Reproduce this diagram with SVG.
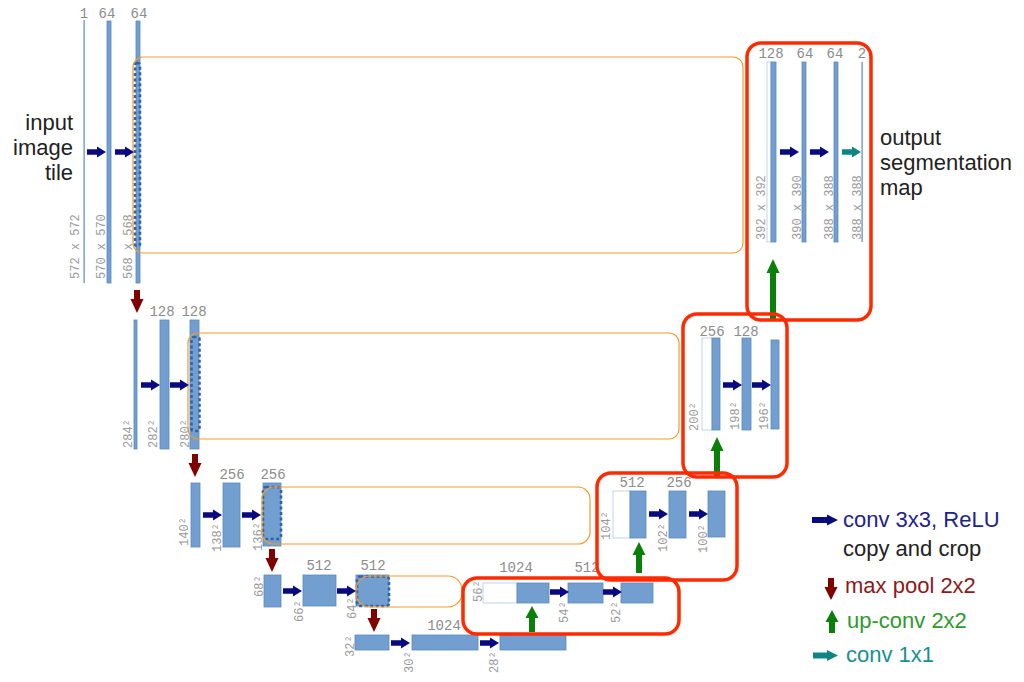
<svg xmlns="http://www.w3.org/2000/svg" width="1024" height="682" viewBox="0 0 1024 682">
<style>
.b{fill:#729fcf;stroke:#5a89c0;stroke-width:0.8}
.w{fill:#fff;stroke:#a9c2e0;stroke-width:0.7}
.ln{fill:#5a89c0}
.t{font-family:"Liberation Mono","DejaVu Sans Mono",monospace;font-size:14px;fill:#8c8c8c;text-anchor:middle}
.s{font-family:"Liberation Mono","DejaVu Sans Mono",monospace;font-size:12px;fill:#9a9a9a}
.o{fill:none;stroke:#f49a2c;stroke-width:1.2}
.d{fill:none;stroke:#2f64a5;stroke-width:2.6;stroke-dasharray:3 2.5}
.r{fill:none;stroke:#ff2a00;stroke-width:3.5}
.big{font-family:"Liberation Sans",Arial,sans-serif;font-size:22px;fill:#222}
.nv{fill:#0a0a80}
.dr{fill:#800000}
.gr{fill:#0a800a}
.tl{fill:#108585}
</style>
<defs>
<path id="ar" d="M0,-2.8 H10 V-5.5 L19,0 L10,5.5 V2.8 H0 Z"/>
<path id="ad" d="M-3,0 V9 H-6.5 L0,23 L6.5,9 H3 V0 Z"/>
</defs>
<rect width="1024" height="682" fill="#fff"/>

<g id="level1">
<rect class="ln" x="83.5" y="20" width="1.2" height="263"/>
<rect class="b" x="107" y="21" width="4" height="262"/>
<rect class="b" x="136" y="21" width="4" height="262"/>
<rect class="d" x="135" y="63" width="5" height="183" rx="2"/>
<text class="t" x="84" y="18">1</text>
<text class="t" x="107" y="18">64</text>
<text class="t" x="139" y="18">64</text>
<text class="s" transform="translate(79,279) rotate(-90)">572 x 572</text>
<text class="s" transform="translate(105,279) rotate(-90)">570 x 570</text>
<text class="s" transform="translate(132,279) rotate(-90)">568 x 568</text>
</g>

<g id="level1-up">
<rect class="w" x="767" y="62" width="4" height="180"/>
<rect class="b" x="771" y="62" width="5" height="180"/>
<rect class="b" x="802" y="62" width="4" height="180"/>
<rect class="b" x="834" y="62" width="4" height="180"/>
<rect class="ln" x="861.5" y="62" width="1.2" height="180"/>
<text class="t" x="771" y="58">128</text>
<text class="t" x="805" y="58">64</text>
<text class="t" x="835" y="58">64</text>
<text class="t" x="862" y="58">2</text>
<text class="s" transform="translate(765,240) rotate(-90)">392 x 392</text>
<text class="s" transform="translate(801,240) rotate(-90)">390 x 390</text>
<text class="s" transform="translate(833,240) rotate(-90)">388 x 388</text>
<text class="s" transform="translate(861,240) rotate(-90)">388 x 388</text>
</g>

<g id="level2">
<rect class="b" x="134" y="320" width="3" height="129"/>
<rect class="b" x="160" y="320" width="9" height="129"/>
<rect class="b" x="190" y="320" width="9" height="129"/>
<rect class="d" x="191.5" y="337" width="8" height="94" rx="2"/>
<text class="t" x="162" y="316">128</text>
<text class="t" x="194" y="316">128</text>
<text class="s" transform="translate(132,448) rotate(-90)">284²</text>
<text class="s" transform="translate(157,448) rotate(-90)">282²</text>
<text class="s" transform="translate(189,448) rotate(-90)">280²</text>
</g>

<g id="level2-up">
<rect class="w" x="702" y="338" width="10" height="92"/>
<rect class="b" x="712" y="338" width="8" height="92"/>
<rect class="b" x="742" y="338" width="9" height="92"/>
<rect class="b" x="771" y="340" width="8" height="89"/>
<text class="t" x="712" y="336">256</text>
<text class="t" x="746" y="336">128</text>
<text class="s" transform="translate(698,431) rotate(-90)">200²</text>
<text class="s" transform="translate(739,430) rotate(-90)">198²</text>
<text class="s" transform="translate(768,430) rotate(-90)">196²</text>
</g>

<g id="level3">
<rect class="b" x="191" y="483" width="9" height="64"/>
<rect class="b" x="223" y="483" width="17" height="64"/>
<rect class="b" x="263" y="483" width="18" height="63"/>
<rect class="d" x="263" y="487" width="18" height="52" rx="3"/>
<text class="t" x="232" y="479">256</text>
<text class="t" x="273" y="479">256</text>
<text class="s" transform="translate(188,546) rotate(-90)">140²</text>
<text class="s" transform="translate(221,552) rotate(-90)">138²</text>
<text class="s" transform="translate(262,551) rotate(-90)">136²</text>
</g>

<g id="level3-up">
<rect class="w" x="613" y="491" width="17" height="47"/>
<rect class="b" x="630" y="491" width="16" height="47"/>
<rect class="b" x="669" y="491" width="17" height="47"/>
<rect class="b" x="708" y="491" width="17" height="46"/>
<text class="t" x="632" y="487">512</text>
<text class="t" x="679" y="487">256</text>
<text class="s" transform="translate(610,540) rotate(-90)">104²</text>
<text class="s" transform="translate(667,552) rotate(-90)">102²</text>
<text class="s" transform="translate(707,553) rotate(-90)">100²</text>
</g>

<g id="level4">
<rect class="b" x="264" y="575" width="17" height="32"/>
<rect class="b" x="303" y="575" width="33" height="31"/>
<rect class="b" x="356" y="575" width="33" height="31"/>
<rect class="d" x="357" y="576.5" width="32" height="29.5" rx="3"/>
<text class="t" x="319" y="570">512</text>
<text class="t" x="373" y="570">512</text>
<text class="s" transform="translate(263,597) rotate(-90)">68²</text>
<text class="s" transform="translate(303,622) rotate(-90)">66²</text>
<text class="s" transform="translate(356,619) rotate(-90)">64²</text>
</g>

<g id="level4-up">
<rect class="w" x="483" y="583" width="34" height="20"/>
<rect class="b" x="517" y="583" width="32" height="20"/>
<rect class="b" x="568" y="583" width="35" height="20"/>
<rect class="b" x="621" y="583" width="32" height="20"/>
<text class="t" x="516" y="572">1024</text>
<text class="t" x="587" y="572">512</text>
<text class="s" transform="translate(482,602) rotate(-90)">56²</text>
<text class="s" transform="translate(568,623) rotate(-90)">54²</text>
<text class="s" transform="translate(620,623) rotate(-90)">52²</text>
</g>

<g id="level5">
<rect class="b" x="355" y="635" width="34" height="15"/>
<rect class="b" x="412" y="635" width="66" height="15"/>
<rect class="b" x="500" y="635" width="66" height="15"/>
<text class="t" x="444" y="630">1024</text>
<text class="s" transform="translate(354,657) rotate(-90)">32²</text>
<text class="s" transform="translate(413,673) rotate(-90)">30²</text>
<text class="s" transform="translate(498,673) rotate(-90)">28²</text>
</g>

<g id="connectors">
<rect class="o" x="133" y="57" width="610" height="196" rx="10"/>
<rect class="o" x="188" y="333" width="491" height="106" rx="10"/>
<rect class="o" x="262" y="487" width="328" height="57" rx="12"/>
<rect class="o" x="356" y="576" width="106" height="31" rx="14"/>
<use href="#ar" class="nv" x="87" y="152"/>
<use href="#ar" class="nv" x="115" y="152"/>
<use href="#ar" class="nv" x="780" y="152"/>
<use href="#ar" class="nv" x="810" y="152"/>
<use href="#ar" class="tl" x="842" y="152"/>
<use href="#ar" class="nv" x="141" y="385"/>
<use href="#ar" class="nv" x="170" y="385"/>
<use href="#ar" class="nv" x="723" y="385"/>
<use href="#ar" class="nv" x="752" y="385"/>
<use href="#ar" class="nv" x="203" y="515"/>
<use href="#ar" class="nv" x="242" y="515"/>
<use href="#ar" class="nv" x="649" y="514"/>
<use href="#ar" class="nv" x="689" y="514"/>
<use href="#ar" class="nv" x="283" y="591"/>
<use href="#ar" class="nv" x="337" y="591"/>
<use href="#ar" class="nv" x="550" y="592"/>
<use href="#ar" class="nv" x="603" y="592"/>
<use href="#ar" class="nv" x="391" y="643"/>
<use href="#ar" class="nv" x="480" y="643"/>
<use href="#ad" class="dr" x="137" y="290"/>
<use href="#ad" class="dr" x="195" y="454"/>
<use href="#ad" class="dr" x="272" y="549"/>
<use href="#ad" class="dr" x="374" y="609"/>
<path class="gr" d="M770,320 V273 H766.5 L773,259 L779.5,273 H776 V320 Z"/>
<path class="gr" d="M714,477 V451 H710.5 L717,437 L723.5,451 H720 V477 Z"/>
<path class="gr" d="M636,573 V555 H632.5 L639,542 L645.5,555 H642 V573 Z"/>
<path class="gr" d="M529,632 V618 H525.5 L532,606 L538.5,618 H535 V632 Z"/>
</g>

<g id="crop-boxes">
<rect class="r" x="747" y="43" width="124" height="277" rx="14"/>
<rect class="r" x="683" y="314" width="104" height="163" rx="14"/>
<rect class="r" x="597" y="473" width="140" height="107" rx="14"/>
<rect class="r" x="463" y="578" width="216" height="56" rx="14"/>
</g>

<g id="input-label">
<text class="big" x="73" y="130" text-anchor="end">input</text>
<text class="big" x="73" y="155" text-anchor="end">image</text>
<text class="big" x="73" y="180" text-anchor="end">tile</text>
</g>

<g id="output-label">
<text class="big" x="880" y="145">output</text>
<text class="big" x="880" y="170">segmentation</text>
<text class="big" x="880" y="195">map</text>
</g>

<g id="legend">
<path class="nv" d="M812,517 H827 V514.5 L838,520 L827,525.5 V523 H812 Z"/>
<text class="big" x="843" y="527" style="fill:#22228c">conv 3x3, ReLU</text>
<text class="big" x="843" y="556">copy and crop</text>
<path class="dr" d="M828,578 V587 H824.5 L831,600 L837.5,587 H834 V578 Z"/>
<text class="big" x="845" y="593" style="fill:#8b1a1a">max pool 2x2</text>
<path class="gr" d="M829,633 V622 H825.5 L832,610 L838.5,622 H835 V633 Z"/>
<text class="big" x="847" y="628" style="fill:#2e9a2e">up-conv 2x2</text>
<path class="tl" d="M813,652.5 H827 V650 L838,655.5 L827,661 V658.5 H813 Z"/>
<text class="big" x="846" y="662" style="fill:#1a8f8f">conv 1x1</text>
</g>
</svg>
